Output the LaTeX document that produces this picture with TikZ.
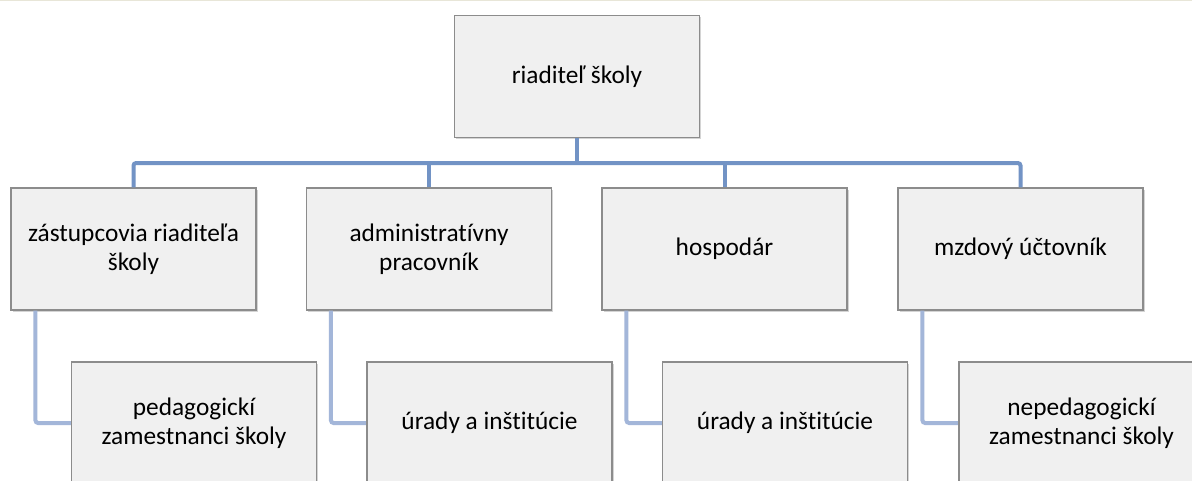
\documentclass[tikz,border=0pt]{standalone}
\usepackage{fontspec}
\setmainfont{Carlito}[Ligatures=NoCommon]
\usetikzlibrary{shadows}
\definecolor{boxfill}{RGB}{240,240,240}
\definecolor{boxline}{RGB}{140,140,140}
\definecolor{busblue}{RGB}{114,147,197}
\definecolor{subblue}{RGB}{163,182,217}
\definecolor{topline}{RGB}{232,230,216}
\begin{document}
\begin{tikzpicture}[x=0.75pt,y=-0.75pt,
  orgbox/.style={draw=boxline, fill=boxfill, line width=0.8pt,
    minimum width=183.75pt, minimum height=91.5pt, text width=180pt,
    align=flush center, inner sep=0pt,
    font=\fontsize{19}{22}\selectfont,
    drop shadow={shadow xshift=1.2pt, shadow yshift=-1.2pt, opacity=0.3, fill=black!55}},
  bus/.style={draw=busblue, line width=3pt, rounded corners=2pt},
  sub/.style={draw=subblue, line width=3pt, rounded corners=2pt}]
\useasboundingbox (0,0) rectangle (1192,480);
\clip (0,0) rectangle (1192,480);
\fill[white] (0,0) rectangle (1192,480);
\draw[topline, line width=1pt] (0,0.7) -- (1192,0.7);

\coordinate (j) at (577,163);

\node[orgbox] (top) at (577,76.5) {riaditeľ školy};
\node[orgbox] (a) at (133.5,249) {zástupcovia riaditeľa\\školy};
\node[orgbox] (b) at (429,249) {administratívny\\pracovník};
\node[orgbox] (c) at (724.5,249) {hospodár};
\node[orgbox] (d) at (1020.5,249) {mzdový účtovník};

\draw[bus] (top.south) -- (j);
\draw[bus] (a.north) |- (j) -| (d.north);
\draw[bus] (b.north) -- (b.north |- j);
\draw[bus] (c.north) -- (c.north |- j);

\draw[sub] ([xshift=18.75pt]a.south west) |- (194,423);
\draw[sub] ([xshift=18.75pt]b.south west) |- (489.5,423);
\draw[sub] ([xshift=18.75pt]c.south west) |- (785,423);
\draw[sub] ([xshift=18.75pt]d.south west) |- (1081.5,423);

\node[orgbox] (a2) at (194,423) {pedagogickí\\zamestnanci školy};
\node[orgbox] (b2) at (489.5,423) {úrady a inštitúcie};
\node[orgbox] (c2) at (785,423) {úrady a inštitúcie};
\node[orgbox] (d2) at (1081.5,423) {nepedagogickí\\zamestnanci školy};
\end{tikzpicture}
\end{document}
